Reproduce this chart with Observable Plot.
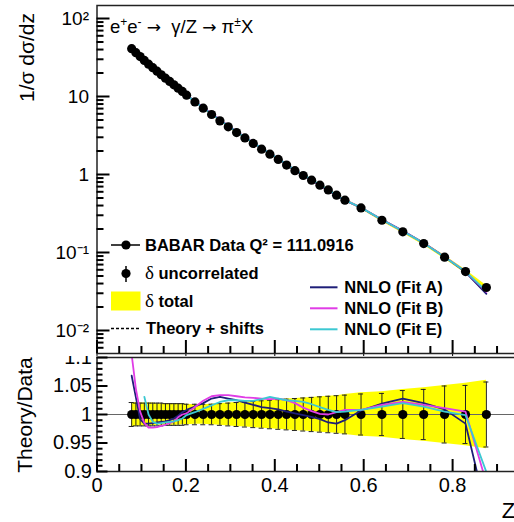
<!DOCTYPE html>
<html><head><meta charset="utf-8">
<script src="https://cdn.jsdelivr.net/npm/d3@7"></script>
<script src="https://cdn.jsdelivr.net/npm/@observablehq/plot@0.6"></script>
<style>
html,body{margin:0;padding:0;background:#fff;overflow:hidden;}
#wrap{position:relative;width:514px;height:522px;overflow:hidden;background:#fff;}
#wrap svg{max-width:none !important;display:block;overflow:hidden;}
</style></head><body><div id="wrap"></div>
<script>
// ---- data ----
const zValues = [
  0.078, 0.0875, 0.097, 0.1065, 0.116, 0.1255, 0.135, 0.1445, 0.154, 0.1635, 0.173, 0.1825, 0.192,
  0.2015, 0.2203, 0.239, 0.2578, 0.2765, 0.2953, 0.314, 0.3328, 0.3515, 0.3703, 0.389, 0.4078, 0.4265, 0.4453, 0.464, 0.4828, 0.5015, 0.5203, 0.539, 0.5578,
  0.594, 0.641, 0.688, 0.735, 0.782, 0.829, 0.876
];
const crossSection = [
  41, 36.5, 32.5, 29, 26, 23.4, 21.1, 19.0, 17.2, 15.6, 14.1, 12.8, 11.6,
  10.4, 8.53, 7.08, 5.88, 4.87, 4.08, 3.45, 2.94, 2.50, 2.11, 1.82, 1.56, 1.32, 1.12, 0.971, 0.845, 0.729, 0.635, 0.543, 0.469,
  0.373, 0.259, 0.184, 0.130, 0.0871, 0.0570, 0.0356
];
const uncorrelatedErr = [
  0.021, 0.02, 0.02, 0.02, 0.02, 0.02, 0.02, 0.02, 0.019, 0.019, 0.019, 0.019, 0.019,
  0.018, 0.018, 0.018, 0.018, 0.019, 0.020, 0.021, 0.022, 0.023, 0.024, 0.025, 0.026, 0.027, 0.028, 0.029, 0.030, 0.031, 0.032, 0.033, 0.034,
  0.036, 0.037, 0.042, 0.044, 0.050, 0.051, 0.057
];
const totalErr = [
  0.021, 0.021, 0.02, 0.02, 0.02, 0.02, 0.019, 0.019, 0.019, 0.019, 0.019, 0.019, 0.018,
  0.018, 0.017, 0.017, 0.018, 0.019, 0.020, 0.021, 0.022, 0.023, 0.024, 0.025, 0.026, 0.027, 0.028, 0.029, 0.030, 0.031, 0.032, 0.033, 0.035,
  0.038, 0.040, 0.044, 0.047, 0.051, 0.055, 0.060
];
const fitA = [
  1.068, 1.03, 0.992, 0.984, 0.984, 0.985, 0.986, 0.987, 0.988, 0.990, 0.993, 0.998, 1.004,
  1.008, 1.014, 1.020, 1.028, 1.031, 1.028, 1.025, 1.021, 1.017, 1.013, 1.011, 1.009, 1.005, 1.002, 0.999, 0.996, 0.992, 0.986, 0.984, 0.990,
  1.007, 1.019, 1.028, 1.020, 1.009, 0.984, 0.83
];
const fitB = [
  1.105, 1.045, 1.005, 0.985, 0.977, 0.977, 0.978, 0.980, 0.982, 0.985, 0.988, 0.995, 1.000,
  1.002, 1.013, 1.024, 1.032, 1.034, 1.034, 1.032, 1.030, 1.029, 1.028, 1.027, 1.028, 1.025, 1.020, 1.012, 1.006, 1.001, 1.000, 1.004, 1.008,
  1.008, 1.017, 1.022, 1.017, 1.011, 1.005, 0.88
];
const fitE = [
  null, null, null, 1.031, 1.000, 0.987, 0.984, 0.985, 0.986, 0.987, 0.988, 0.990, 0.993,
  0.999, 1.004, 1.010, 1.016, 1.022, 1.025, 1.025, 1.024, 1.024, 1.027, 1.031, 1.028, 1.025, 1.024, 1.022, 1.018, 1.013, 1.008, 1.004, 1.005,
  1.008, 1.014, 1.020, 1.014, 1.005, 0.999, 0.899
];
const fitNames = ["NNLO (Fit A)", "NNLO (Fit B)", "NNLO (Fit E)"];
const fitColors = ["#1e1e78", "#e03ce6", "#3cc8d2"];
const fitSeries = [fitA, fitB, fitE];

const yTicksTop = [0.01, 0.1, 1, 10, 100];
const yLabelsTop = ["10\u207B\u00B2", "10\u207B\u00B9", "1", "10", "10\u00B2"];
const xTicks = [0, 0.2, 0.4, 0.6, 0.8, 1];
const xLabels = ["0", "0.2", "0.4", "0.6", "0.8", "1"];
const xMinorTicks = [0.05, 0.1, 0.15, 0.25, 0.3, 0.35, 0.45, 0.5, 0.55, 0.65, 0.7, 0.75, 0.85, 0.9, 0.95];
const yTicksBot = [0.9, 0.95, 1, 1.05, 1.1];
const yLabelsBot = ["0.9", "0.95", "1", "1.05", "1.1"];
const yMinorBot = [0.91,0.92,0.93,0.94,0.96,0.97,0.98,0.99,1.01,1.02,1.03,1.04,1.06,1.07,1.08,1.09];

const qLabel = "BABAR Data Q\u00B2 = 111.0916";
const legendLeft = ["uncorrelated", "total", "Theory + shifts"];

// ---- build ----
const data = zValues.map((z, i) => ({
  z, v: crossSection[i], unc: uncorrelatedErr[i], tot: totalErr[i],
  r: [fitA[i], fitB[i], fitE[i]]
}));

const FONT = "'Liberation Sans', Arial, Helvetica, sans-serif";
const yMinorTop = [];
for (let e = -3; e <= 2; e++) for (let m = 2; m <= 9; m++) {
  const t = m * Math.pow(10, e);
  if (t > 0.0051 && t < 146) yMinorTop.push(t);
}
const W = 561, ML = 96.5, MR = 20;
const frameColor = "#222";
const tickColor = "#000";
const TOP_YMIN = 0.00507, TOP_YMAX = 146.8, BOT_YMIN = 0.9, BOT_YMAX = 1.1;

// inward ROOT-style ticks as rule marks (field channels, negative insets)
const yTickMarks = (ticks, len) => Plot.ruleY(ticks.map(t => ({t, x: 0})),
  {y: "t", x1: "x", x2: "x", insetLeft: 0, insetRight: -len, stroke: tickColor, strokeWidth: 2});
const xTickMarks = (ticks, len, ymin) => Plot.ruleX(ticks.map(t => ({t, y: ymin})),
  {x: "t", y1: "y", y2: "y", insetTop: -len, insetBottom: 0, stroke: tickColor, strokeWidth: 2});

const topChart = Plot.plot({
  width: W, height: 356,
  marginLeft: ML, marginRight: MR, marginTop: 5, marginBottom: 3,
  style: {fontFamily: FONT, color: "#000", background: "#fff"},
  x: {domain: [0, 1], label: null},
  y: {type: "log", domain: [TOP_YMIN, TOP_YMAX], label: null},
  marks: [
    Plot.areaY(data, {x: "z", y1: d => d.v * (1 - d.tot), y2: d => d.v * (1 + d.tot), fill: "#ffff00"}),
    ...fitSeries.map((s, k) => Plot.line(data, {
      x: "z", y: d => d.r[k] == null ? NaN : d.v * d.r[k], stroke: fitColors[k], strokeWidth: 1.8, clip: true
    })),
    Plot.dot(data, {x: "z", y: "v", r: 4.6, fill: "#000"}),
    Plot.frame({stroke: frameColor, strokeWidth: 1.5}),
    yTickMarks(yTicksTop, 13),
    yTickMarks(yMinorTop, 7),
    xTickMarks(xTicks, 13, TOP_YMIN),
    xTickMarks(xMinorTicks, 7, TOP_YMIN),
    Plot.axisY({ticks: yTicksTop, tickSize: 0, tickPadding: 8, fontSize: 19,
      tickFormat: d => yLabelsTop[yTicksTop.indexOf(d)], label: null})
  ]
});

const botChart = Plot.plot({
  width: W, height: 166,
  marginLeft: ML, marginRight: MR, marginTop: 1, marginBottom: 51,
  style: {fontFamily: FONT, color: "#000", background: "#fff"},
  x: {domain: [0, 1], label: null},
  y: {domain: [BOT_YMIN, BOT_YMAX], label: null},
  marks: [
    Plot.areaY(data, {x: "z", y1: d => 1 - d.tot, y2: d => 1 + d.tot, fill: "#ffff00"}),
    Plot.ruleY([1], {stroke: "#666", strokeWidth: 1}),
    Plot.ruleX(data, {x: "z", y1: d => 1 - d.unc, y2: d => 1 + d.unc, stroke: "#222", strokeWidth: 1}),
    Plot.ruleY(data, {x1: "z", x2: "z", y: d => 1 + d.unc, insetLeft: -2.5, insetRight: -2.5, stroke: "#222"}),
    Plot.ruleY(data, {x1: "z", x2: "z", y: d => 1 - d.unc, insetLeft: -2.5, insetRight: -2.5, stroke: "#222"}),
    Plot.dot(data, {x: "z", y: () => 1, r: 4.6, fill: "#000"}),
    ...fitSeries.map((s, k) => Plot.line(data, {
      x: "z", y: d => d.r[k] == null ? NaN : d.r[k], stroke: fitColors[k], strokeWidth: 1.8, clip: true
    })),
    Plot.frame({stroke: frameColor, strokeWidth: 1.5}),
    yTickMarks(yTicksBot, 11),
    yTickMarks(yMinorBot, 6),
    xTickMarks(xTicks, 12, BOT_YMIN),
    xTickMarks(xMinorTicks, 7, BOT_YMIN),
    Plot.axisY({ticks: yTicksBot, tickSize: 0, tickPadding: 5, fontSize: 20,
      tickFormat: d => yLabelsBot[yTicksBot.indexOf(d)], label: null}),
    Plot.axisX({ticks: xTicks, tickSize: 0, tickPadding: 6, fontSize: 20,
      tickFormat: d => xLabels[xTicks.indexOf(d)], label: null}),
    Plot.text(["Z"], {frameAnchor: "bottom-right", dx: -33, dy: 46, fontSize: 22, textAnchor: "middle"})
  ]
});

const wrap = document.getElementById("wrap");
wrap.appendChild(topChart);
wrap.appendChild(botChart);

// ---- overlays: titles and legend ----
const ts = d3.select(topChart);
const g = ts.append("g").attr("font-family", FONT).attr("fill", "#000").attr("text-anchor", "start");

// process title
const ARROW_FONT = "'DejaVu Sans', sans-serif";
const title = g.append("text").attr("x", 110).attr("y", 33).attr("font-size", 18.5);
title.append("tspan").text("e");
title.append("tspan").attr("dy", -7).attr("font-size", 12).text("+");
title.append("tspan").attr("dy", 7).text("e");
title.append("tspan").attr("dy", -7).attr("font-size", 12).text("-");
title.append("tspan").attr("dy", 7).text(" ");
title.append("tspan").attr("font-family", ARROW_FONT).attr("font-size", 17).text("\u2192");
title.append("tspan").text("  \u03B3/Z ");
title.append("tspan").attr("font-family", ARROW_FONT).attr("font-size", 17).text("\u2192");
title.append("tspan").text(" \u03C0");
title.append("tspan").attr("dy", -7).attr("font-size", 12).text("\u00B1");
title.append("tspan").attr("dy", 7).text("X");

// y axis title (top)
g.append("text").attr("transform", "translate(27,13) rotate(-90)")
  .attr("text-anchor", "end").attr("dy", "0.35em").attr("font-size", 21)
  .text("1/\u03C3 d\u03C3/dz");

// left legend
const lx = 145;
g.append("line").attr("x1", 111).attr("x2", 140).attr("y1", 245).attr("y2", 245).attr("stroke", "#000").attr("stroke-width", 1.5);
g.append("circle").attr("cx", 126).attr("cy", 245).attr("r", 4.6);
g.append("text").attr("x", lx).attr("y", 245).attr("dy", "0.36em").attr("font-size", 16.5).attr("font-weight", "bold").text(qLabel);

g.append("line").attr("x1", 126).attr("x2", 126).attr("y1", 266).attr("y2", 282).attr("stroke", "#000").attr("stroke-width", 1.5);
g.append("circle").attr("cx", 126).attr("cy", 273.5).attr("r", 4.6);
const t2 = g.append("text").attr("x", lx).attr("y", 273.5).attr("dy", "0.36em").attr("font-size", 16.5).attr("font-weight", "bold");
t2.append("tspan").attr("font-family", "'Liberation Serif', 'DejaVu Serif', serif").attr("font-weight", "normal").attr("font-size", 19).text("\u03B4");
t2.append("tspan").text(" " + legendLeft[0]);

g.append("rect").attr("x", 111).attr("y", 291.5).attr("width", 29.5).attr("height", 19).attr("fill", "#ffff00");
const t3 = g.append("text").attr("x", lx).attr("y", 301).attr("dy", "0.36em").attr("font-size", 16.5).attr("font-weight", "bold");
t3.append("tspan").attr("font-family", "'Liberation Serif', 'DejaVu Serif', serif").attr("font-weight", "normal").attr("font-size", 19).text("\u03B4");
t3.append("tspan").text(" " + legendLeft[1]);

g.append("line").attr("x1", 111).attr("x2", 140).attr("y1", 328.5).attr("y2", 328.5).attr("stroke", "#000").attr("stroke-width", 1.3).attr("stroke-dasharray", "3,2");
g.append("text").attr("x", lx + 1).attr("y", 328.5).attr("dy", "0.36em").attr("font-size", 16.5).attr("font-weight", "bold").text(legendLeft[2]);

// right legend
fitNames.forEach((name, k) => {
  const y = 287.3 + 21 * k;
  g.append("line").attr("x1", 310).attr("x2", 337.5).attr("y1", y).attr("y2", y).attr("stroke", fitColors[k]).attr("stroke-width", 2);
  g.append("text").attr("x", 344.3).attr("y", y).attr("dy", "0.36em").attr("font-size", 16.5).attr("font-weight", "bold").text(name);
});

// y axis title (bottom)
d3.select(botChart).append("text").attr("font-family", FONT)
  .attr("transform", "translate(25,59) rotate(-90)")
  .attr("text-anchor", "middle").attr("dy", "0.35em").attr("font-size", 21).attr("fill", "#000")
  .text("Theory/Data");
</script></body></html>
